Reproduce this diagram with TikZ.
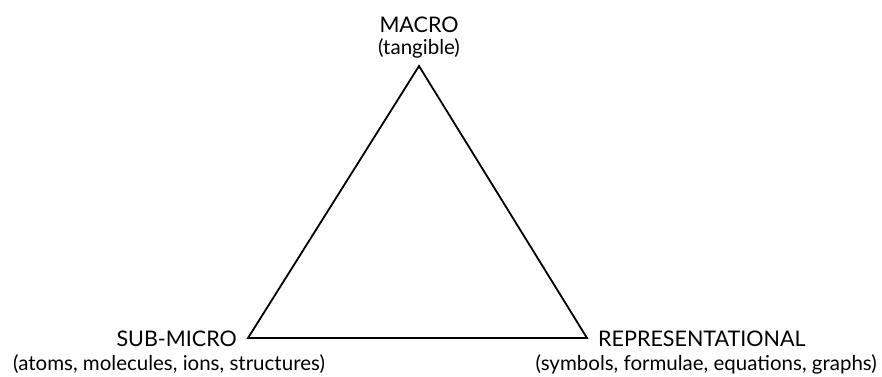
\documentclass[tikz,border=0pt]{standalone}
\usepackage{fontspec}
\setmainfont{Lato}
\usepackage{tikz}
\usetikzlibrary{positioning}

\tikzset{
    corner/.style={font=\fontsize{21.5}{24}\selectfont, inner sep=1pt},
    note/.style={font=\fontsize{20.5}{23}\selectfont, inner sep=1pt},
}

\begin{document}
\begin{tikzpicture}[x=1pt,y=-1pt]
        \useasboundingbox (0,0) rectangle (882,376);
        \coordinate (macro) at (419,66);
        \coordinate (sub) at (248,338);
        \coordinate (rep) at (587,338);
        \draw[line width=1.8pt, line join=miter] (macro) -- (sub) -- (rep) -- cycle;

        \node[note, anchor=base] (tang) at (419,54) {(tangible)};
        \node[corner, anchor=base] (macrolbl) at (419,32) {MACRO};

        \node[corner, anchor=base east] (sublbl) at (238,346) {SUB-MICRO};
        \node[note, anchor=base west] (atoms) at (12,370) {(atoms, molecules, ions, structures)};

        \node[corner, anchor=base west] (replbl) at (597,346) {REPRESENTATIONAL};
        \node[note, anchor=base east] (symb) at (878,370) {(symbols, formulae, equations, graphs)};
    \end{tikzpicture}
\end{document}
